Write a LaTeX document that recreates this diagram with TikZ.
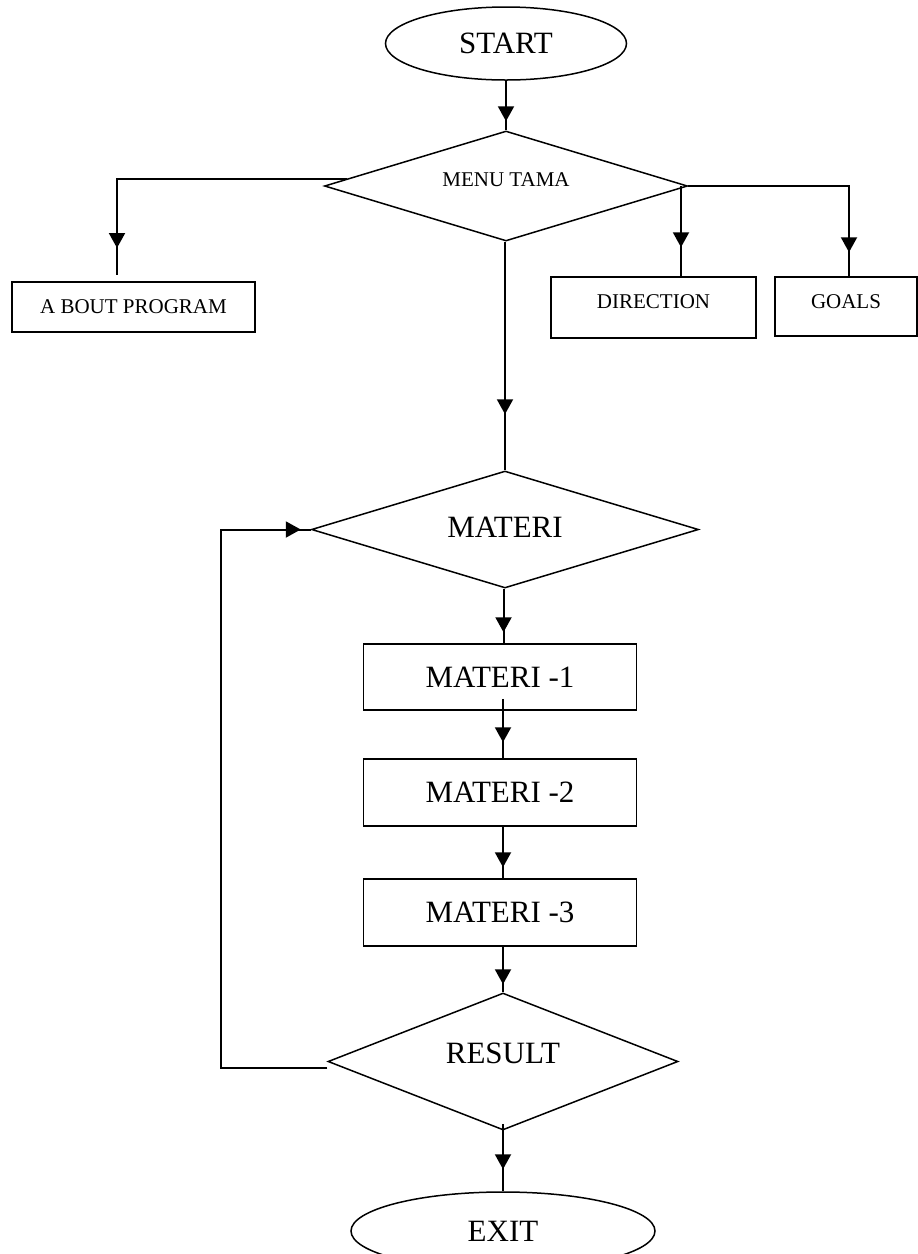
\documentclass[tikz,border=0pt]{standalone}
\usepackage{fontspec}
\setmainfont{Liberation Serif}
\usetikzlibrary{shapes.geometric,arrows.meta,decorations.markings}
\tikzset{
  conn/.style={line width=2pt},
  midarr/.style={decoration={markings, mark=at position #1 with {\arrow{Triangle[width=16pt,length=15pt]}}}, postaction={decorate}},
  bigtxt/.style={font=\fontsize{31}{37}\selectfont},
  smalltxt/.style={font=\fontsize{21}{25}\selectfont},
  term/.style={ellipse, draw, line width=1.5pt, inner sep=0pt},
  dec/.style={diamond, aspect=3, draw, line width=1.5pt, inner sep=0pt},
  boxx/.style={rectangle, draw, line width=1.5pt, inner sep=0pt},
}
\begin{document}
\begin{tikzpicture}[x=1pt,y=-1pt]
\useasboundingbox (0,0) rectangle (918,1254);
% nodes
\node[term, bigtxt, minimum width=241pt, minimum height=73pt] (start) at (506,43.5) {START};
\node[dec, smalltxt, minimum width=363pt, minimum height=110pt, text height=14pt, text depth=14pt] (menu) at (506,186) {MENU TAMA};
\node[boxx, smalltxt, minimum width=243pt, minimum height=50pt] (about) at (133.5,307) {A BOUT PROGRAM};
\node[boxx, smalltxt, minimum width=205pt, minimum height=61pt, text height=14pt, text depth=12pt] (dir) at (653.5,307.5) {DIRECTION};
\node[boxx, smalltxt, minimum width=142pt, minimum height=59pt, text height=14pt, text depth=10pt] (goals) at (846,306.5) {GOALS};
\node[dec, bigtxt, minimum width=387pt, minimum height=117pt, text height=21pt, text depth=6pt] (mat) at (505,529.5) {MATERI};
\node[boxx, bigtxt, minimum width=273pt, minimum height=66pt] (m1) at (500,677) {MATERI -1};
\node[boxx, bigtxt, minimum width=273pt, minimum height=67pt] (m2) at (500,792.5) {MATERI -2};
\node[boxx, bigtxt, minimum width=273pt, minimum height=67pt] (m3) at (500,912.5) {MATERI -3};
\node[dec, bigtxt, minimum width=350pt, minimum height=137pt, text height=21pt, text depth=18pt] (res) at (503,1061.5) {RESULT};
\node[term, bigtxt, minimum width=304pt, minimum height=78pt] (exit) at (503,1231) {EXIT};
% helper coordinates
\coordinate (ml) at (347,179);
\coordinate (abt) at (117,275);
\coordinate (dr) at (681,186);
\coordinate (lc) at (221,800);
% connectors
\draw[conn, midarr=-9pt] (start.south) -- (menu.north);
\draw[conn, midarr=-27pt] (ml) -| (abt);
\draw[conn, midarr=-29pt] (dr) -- (dr |- dir.north);
\draw[conn, midarr=-24pt] (menu.east) -| ([xshift=3pt]goals.north);
\draw[conn, midarr=-56pt] (menu.south -| mat.north) -- (mat.north);
\draw[conn, midarr=-11pt] ([xshift=-1.5pt]mat.south) -- ([xshift=-1.5pt]mat.south |- m1.north);
\draw[conn, midarr=-16pt] ([yshift=12pt]m1.south -| res.north) -- (res.north |- m2.north);
\draw[conn, midarr=-11pt] (res.north |- m2.south) -- (res.north |- m3.north);
\draw[conn, midarr=-8pt] (res.north |- m3.south) -- (res.north);
\draw[conn, midarr=-22pt] ([yshift=7pt]res.south) -- (exit.north);
\draw[conn, midarr=-10pt] ([yshift=-6pt]res.west) -| (lc) |- (mat.west);
\end{tikzpicture}
\end{document}
